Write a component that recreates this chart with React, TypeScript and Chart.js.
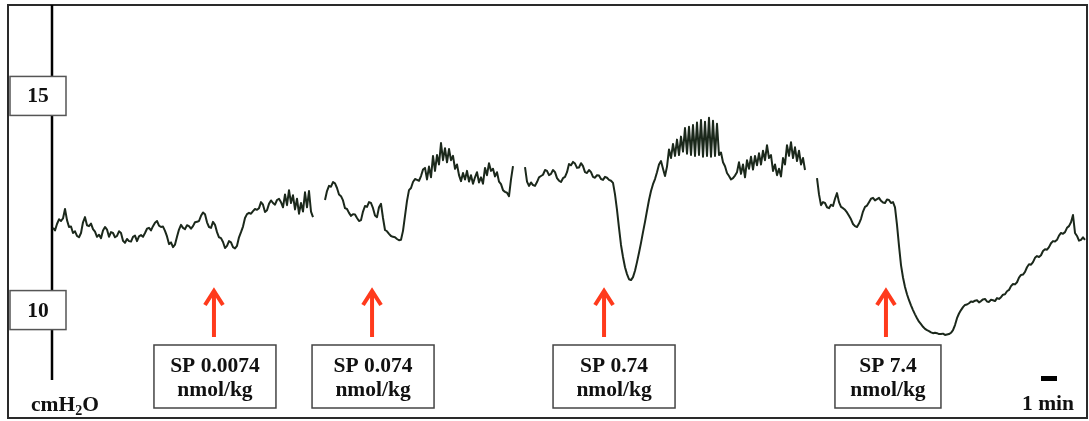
import React, { useEffect, useRef } from "react";
import { Chart, registerables } from "chart.js";

Chart.register(...registerables);

// ---- data (cmH2O, one sample every SAMPLE_INTERVAL_MIN minutes) ----
const SAMPLE_INTERVAL_MIN = 0.125;

const TRACE_BASELINE_AND_SP1: number[] = [
  11.92, 11.86, 12.01, 12.12, 12.08, 12.14, 12.36, 12.10, 11.94, 11.95,
  11.80, 11.84, 11.73, 11.70, 11.80, 12.05, 12.17, 11.98, 11.96, 12.02,
  11.89, 11.83, 11.71, 11.76, 11.68, 11.86, 11.94, 11.88, 11.71, 11.82,
  11.80, 11.70, 11.73, 11.84, 11.80, 11.62, 11.57, 11.66, 11.61, 11.60,
  11.71, 11.74, 11.61, 11.72, 11.75, 11.71, 11.80, 11.90, 11.92, 11.86,
  11.96, 12.04, 12.08, 11.97, 11.94, 11.95, 11.85, 11.72, 11.54, 11.58,
  11.47, 11.53, 11.71, 11.88, 11.99, 11.92, 11.89, 11.98, 11.96, 11.90,
  11.96, 12.05, 12.06, 12.08, 12.20, 12.28, 12.24, 12.05, 11.94, 11.92,
  12.06, 11.99, 11.82, 11.70, 11.68, 11.59, 11.45, 11.50, 11.61, 11.58,
  11.47, 11.44, 11.50, 11.70, 11.82, 11.95, 12.15, 12.24, 12.27, 12.25,
  12.31, 12.36, 12.34, 12.38, 12.52, 12.46, 12.29, 12.33, 12.48, 12.56,
  12.50, 12.46, 12.57, 12.60, 12.52, 12.40, 12.70, 12.45, 12.80, 12.50,
  12.68, 12.35, 12.60, 12.25, 12.50, 12.30, 12.75, 12.40, 12.78, 12.30,
  12.17,
];

const TRACE_SP2: number[] = [
  12.57, 12.78, 12.90, 12.88, 12.99, 12.96, 12.85, 12.70, 12.66, 12.56,
  12.38, 12.36, 12.27, 12.20, 12.24, 12.23, 12.15, 12.08, 12.10, 12.30,
  12.43, 12.41, 12.52, 12.50, 12.38, 12.21, 12.17, 12.40, 12.48, 12.15,
  11.87, 11.84, 11.78, 11.73, 11.71, 11.70, 11.66, 11.63, 11.64, 11.85,
  12.20, 12.55, 12.80, 12.85, 12.99, 13.06, 13.04, 13.02, 13.13, 13.28,
  13.32, 13.05, 13.35, 13.10, 13.60, 13.25, 13.62, 13.40, 13.90, 13.50,
  13.78, 13.45, 13.76, 13.50, 13.60, 13.30, 13.40, 13.15, 13.01, 13.20,
  13.05, 13.25, 13.00, 13.15, 12.95, 13.10, 13.22, 12.98, 13.10, 12.95,
  13.32, 13.15, 13.43, 13.25, 13.30, 13.12, 13.22, 13.00, 12.94, 12.80,
  12.76, 12.74, 12.66, 13.05, 13.36,
];

const TRACE_SP3: number[] = [
  13.34, 13.00, 12.90, 12.98, 12.92, 12.90, 12.99, 13.10, 13.13, 13.16,
  13.27, 13.25, 13.15, 13.18, 13.27, 13.22, 13.08, 13.02, 12.99, 13.08,
  13.11, 13.22, 13.41, 13.38, 13.46, 13.42, 13.32, 13.33, 13.43, 13.36,
  13.22, 13.20, 13.27, 13.22, 13.11, 13.09, 13.15, 13.14, 13.06, 13.04,
  13.11, 13.09, 13.04, 13.02, 12.97, 12.70, 12.34, 11.92, 11.52, 11.24,
  11.00, 10.84, 10.72, 10.70, 10.77, 10.92, 11.12, 11.34, 11.57, 11.82,
  12.06, 12.32, 12.57, 12.78, 12.94, 13.06, 13.22, 13.40, 13.48, 13.30,
  13.13, 13.35, 13.75, 13.55, 13.88, 13.60, 13.98, 13.62, 14.05, 13.70,
  14.25, 13.65, 14.28, 13.62, 14.32, 13.60, 14.38, 13.62, 14.44, 13.58,
  14.40, 13.60, 14.49, 13.58, 14.42, 13.60, 14.35, 13.62, 13.68, 13.45,
  13.36, 13.20, 13.13, 13.05, 13.08, 13.14, 13.22, 13.45, 13.18, 13.40,
  13.10, 13.50, 13.30, 13.58, 13.28, 13.60, 13.38, 13.66, 13.40, 13.72,
  13.50, 13.85, 13.55, 13.62, 13.25, 13.40, 13.15, 13.30, 13.12, 13.55,
  13.40, 13.85, 13.60, 13.92, 13.55, 13.80, 13.48, 13.72, 13.40, 13.55,
  13.27,
];

const TRACE_SP4: number[] = [
  13.08, 12.70, 12.45, 12.52, 12.50, 12.40, 12.38, 12.46, 12.43, 12.60,
  12.73, 12.52, 12.41, 12.38, 12.34, 12.28, 12.20, 12.12, 12.01, 11.96,
  11.94, 12.02, 12.13, 12.30, 12.41, 12.44, 12.52, 12.60, 12.62, 12.56,
  12.59, 12.62, 12.55, 12.51, 12.50, 12.58, 12.57, 12.50, 12.52, 12.40,
  11.99, 11.50, 11.05, 10.76, 10.54, 10.37, 10.23, 10.11, 10.00, 9.90,
  9.81, 9.73, 9.67, 9.61, 9.56, 9.53, 9.51, 9.48, 9.46, 9.47,
  9.46, 9.44, 9.44, 9.45, 9.42, 9.43, 9.44, 9.47, 9.53, 9.65,
  9.81, 9.92, 10.00, 10.07, 10.12, 10.13, 10.16, 10.20, 10.19, 10.22,
  10.23, 10.18, 10.21, 10.25, 10.26, 10.20, 10.19, 10.24, 10.23, 10.21,
  10.28, 10.26, 10.30, 10.36, 10.37, 10.44, 10.47, 10.56, 10.61, 10.60,
  10.65, 10.76, 10.82, 10.83, 10.89, 11.00, 11.07, 11.06, 11.12, 11.22,
  11.26, 11.24, 11.28, 11.38, 11.42, 11.41, 11.47, 11.56, 11.61, 11.60,
  11.64, 11.74, 11.80, 11.78, 11.82, 11.92, 11.96, 12.05, 12.22, 11.80,
  11.73, 11.62, 11.64, 11.70, 11.64,
];

// recorder pen lifted between segments
const PEN_GAP: null[] = [null, null, null, null, null];

const PRESSURE_CMH2O: (number | null)[] = [
  ...TRACE_BASELINE_AND_SP1,
  ...PEN_GAP,
  ...TRACE_SP2,
  ...PEN_GAP,
  ...TRACE_SP3,
  ...PEN_GAP,
  ...TRACE_SP4,
];

const TIME_MIN = PRESSURE_CMH2O.map((_, i) => i * SAMPLE_INTERVAL_MIN);

const Y_TICKS = [15, 10];
const Y_UNIT_MAIN = "cmH";
const Y_UNIT_SUB = "2";
const Y_UNIT_END = "O";

const INJECTION_TIME_MIN = [10.06, 19.94, 34.44, 52.06];
const INJECTION_DOSE = ["SP 0.0074", "SP 0.074", "SP 0.74", "SP 7.4"];
const DOSE_UNIT = "nmol/kg";

const SCALE_BAR_START_MIN = 61.75;
const SCALE_BAR_LENGTH_MIN = 1;
const SCALE_BAR_LABEL = "1 min";

// ---- styles ----
const FONT = '"Liberation Serif", "Times New Roman", serif';
const TEXT_SIZE = 21.5;
const TRACE_COLOR = "#1b281b";
const ARROW_COLOR = "#ff3a1c";
const LABEL_BOXES = [
  { w: 122, dx: 1 },
  { w: 122, dx: 1 },
  { w: 122, dx: 10 },
  { w: 106, dx: 2 },
];

const annotationPlugin = {
  id: "tracingAnnotations",
  beforeDatasetsDraw(chart: any) {
    const ctx = chart.ctx as CanvasRenderingContext2D;
    ctx.save();
    ctx.strokeStyle = "#2a2a2a";
    ctx.lineWidth = 2;
    ctx.strokeRect(8, 5, 1079, 413);
    ctx.strokeStyle = "#000";
    ctx.lineWidth = 2.5;
    ctx.beginPath();
    ctx.moveTo(52, 5);
    ctx.lineTo(52, 380);
    ctx.stroke();
    ctx.restore();
  },
  afterDatasetsDraw(chart: any) {
    const ctx = chart.ctx as CanvasRenderingContext2D;
    const xs = chart.scales.x;
    const ys = chart.scales.y;
    ctx.save();

    Y_TICKS.forEach((v) => {
      const cy = ys.getPixelForValue(v);
      ctx.fillStyle = "#fff";
      ctx.fillRect(10, cy - 19.5, 56, 39);
      ctx.strokeStyle = "#555";
      ctx.lineWidth = 1.5;
      ctx.strokeRect(10, cy - 19.5, 56, 39);
      ctx.fillStyle = "#111";
      ctx.font = `bold ${TEXT_SIZE}px ${FONT}`;
      ctx.textAlign = "center";
      ctx.textBaseline = "middle";
      ctx.fillText(String(v), 38, cy + 1);
    });

    ctx.fillStyle = "#111";
    ctx.textAlign = "left";
    ctx.textBaseline = "alphabetic";
    ctx.font = `bold ${TEXT_SIZE}px ${FONT}`;
    let ux = 31;
    const uy = 411;
    ctx.fillText(Y_UNIT_MAIN, ux, uy);
    ux += ctx.measureText(Y_UNIT_MAIN).width;
    ctx.font = `bold 14px ${FONT}`;
    ctx.fillText(Y_UNIT_SUB, ux, uy + 4);
    ux += ctx.measureText(Y_UNIT_SUB).width;
    ctx.font = `bold ${TEXT_SIZE}px ${FONT}`;
    ctx.fillText(Y_UNIT_END, ux, uy);

    INJECTION_TIME_MIN.forEach((t, i) => {
      const ax = xs.getPixelForValue(t);
      ctx.strokeStyle = ARROW_COLOR;
      ctx.lineWidth = 4;
      ctx.lineCap = "butt";
      ctx.lineJoin = "miter";
      ctx.beginPath();
      ctx.moveTo(ax, 291);
      ctx.lineTo(ax, 337);
      ctx.stroke();
      ctx.beginPath();
      ctx.moveTo(ax - 9, 305);
      ctx.lineTo(ax, 291);
      ctx.lineTo(ax + 9, 305);
      ctx.stroke();

      const b = LABEL_BOXES[i];
      const cx = ax + b.dx;
      ctx.fillStyle = "#fff";
      ctx.fillRect(cx - b.w / 2, 345, b.w, 63);
      ctx.strokeStyle = "#444";
      ctx.lineWidth = 1.5;
      ctx.strokeRect(cx - b.w / 2, 345, b.w, 63);
      ctx.fillStyle = "#111";
      ctx.font = `bold ${TEXT_SIZE}px ${FONT}`;
      ctx.textAlign = "center";
      ctx.textBaseline = "middle";
      ctx.fillText(INJECTION_DOSE[i], cx, 366);
      ctx.fillText(DOSE_UNIT, cx, 390);
    });

    const sx0 = xs.getPixelForValue(SCALE_BAR_START_MIN);
    const sx1 = xs.getPixelForValue(SCALE_BAR_START_MIN + SCALE_BAR_LENGTH_MIN);
    ctx.fillStyle = "#000";
    ctx.fillRect(sx0, 376, sx1 - sx0, 5);
    ctx.fillStyle = "#111";
    ctx.font = `bold ${TEXT_SIZE}px ${FONT}`;
    ctx.textAlign = "center";
    ctx.textBaseline = "middle";
    ctx.fillText(SCALE_BAR_LABEL, 1048, 404);

    ctx.restore();
  },
};

export default function App() {
  const ref = useRef<HTMLCanvasElement>(null);
  useEffect(() => {
    if (!ref.current) return;
    const chart = new Chart(ref.current, {
      type: "line",
      data: {
        datasets: [
          {
            data: TIME_MIN.map((t, i) => ({ x: t, y: PRESSURE_CMH2O[i] as any })),
            borderColor: TRACE_COLOR,
            borderWidth: 2,
            pointRadius: 0,
            tension: 0,
            spanGaps: false,
            borderJoinStyle: "round",
            fill: false,
          } as any,
        ],
      },
      options: {
        animation: false,
        responsive: false,
        maintainAspectRatio: false,
        events: [],
        layout: { padding: 0, autoPadding: false } as any,
        plugins: {
          legend: { display: false },
          tooltip: { enabled: false },
        },
        scales: {
          x: { type: "linear", min: -53 / 16, max: (1089 - 53) / 16, display: false },
          y: { type: "linear", min: 7.41, max: 17.24, display: false },
        },
      },
      plugins: [annotationPlugin],
    });
    return () => chart.destroy();
  }, []);

  return (
    <div style={{ position: "absolute", left: 0, top: 0, width: 1089, height: 421, background: "#fff" }}>
      <canvas ref={ref} width={1089} height={421} style={{ display: "block", width: 1089, height: 421 }} />
    </div>
  );
}
